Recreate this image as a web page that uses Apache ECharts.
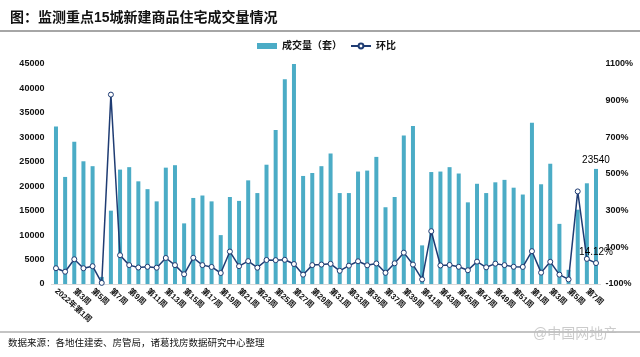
<!DOCTYPE html>
<html>
<head>
<meta charset="utf-8">
<script src="https://cdn.jsdelivr.net/npm/echarts@6/dist/echarts.min.js"></script>
<style>
html,body{margin:0;padding:0;background:#fff;}
#c{width:640px;height:357px;}
</style>
</head>
<body>
<div id="c"></div>
<script>
// Categories: 2022 weeks 1-52, 2023 weeks 1-8
const categories = ["2022年第1周"];
for (let w = 2; w <= 52; w++) categories.push("第" + w + "周");
for (let w = 1; w <= 8; w++) categories.push("第" + w + "周");

// 成交量（套）
const volume = [
  32200, 21900, 29100, 25100, 24100, 1450, 15000, 23400, 23900, 21000,
  19400, 16900, 23800, 24300, 12400, 17600, 18100, 16900, 10000, 17800,
  17000, 21200, 18600, 24400, 31500, 41900, 45000, 22100, 22700, 24100,
  26700, 18600, 18600, 23000, 23200, 26000, 15700, 17800, 30400, 32300,
  7900, 22900, 23000, 23900, 22600, 16700, 20500, 18600, 20800, 21300,
  19700, 18300, 33000, 20400, 24600, 12300, 2900, 15200, 20600, 23540
];

// 环比 (%)
const ratio = [
  -14, -33, 35, -14, -3, -94, 933, 57, 3, -10,
  -6, -11, 42, 3, -47, 43, 3, -7, -40, 77,
  -3, 25, -11, 31, 30, 32, 9, -49, 3, 6,
  10, -28, 0, 24, 2, 12, -39, 13, 71, 6,
  -75, 188, 1, 4, -6, -25, 22, -9, 11, 3,
  -6, -7, 79, -38, 21, -49, -75, 405, 37, 14.12
];

const leftTicks = { min: 0, max: 45000, interval: 5000 };
const rightTicks = { min: -100, max: 1100, interval: 100 };

const FONT = '"Liberation Sans", Arial, "Noto Sans CJK SC", sans-serif';
const BAR_COLOR = '#4bacc6';
const LINE_COLOR = '#1f3c73';

const last = volume.length - 1;
const barData = volume.map((v, i) => i === last
  ? { value: v, label: { show: true, position: 'top', distance: 4, color: '#000', fontSize: 10, fontFamily: FONT } }
  : v);
const lineData = ratio.map((v, i) => i === last
  ? { value: v, label: { show: true, position: 'top', distance: 3, formatter: '{c}%', color: '#000', fontSize: 10, fontFamily: FONT } }
  : v);

const chart = echarts.init(document.getElementById('c'), null, { renderer: 'canvas' });
chart.setOption({
  animation: false,
  backgroundColor: '#fff',
  textStyle: { fontFamily: FONT },
  title: {
    text: '图：监测重点15城新建商品住宅成交量情况',
    left: 5, top: 6,
    textStyle: { fontSize: 14, fontWeight: 'bold', color: '#111', fontFamily: FONT }
  },
  legend: {
    top: 36, left: 252,
    itemGap: 8,
    itemWidth: 20, itemHeight: 6,
    textStyle: { fontSize: 10, fontWeight: 'bold', color: '#111', fontFamily: FONT },
    data: [
      { name: '成交量（套）', icon: 'rect' },
      { name: '环比' }
    ]
  },
  grid: { left: 51.4, right: 39.4, top: 64, bottom: 73, containLabel: false },
  xAxis: {
    type: 'category',
    data: categories,
    axisLine: { show: true, lineStyle: { color: '#d9d9d9', width: 1 } },
    axisTick: { show: false },
    axisLabel: {
      interval: 1, rotate: -42, margin: 6,
      fontSize: 8, fontWeight: 'bold', color: '#111', fontFamily: FONT
    }
  },
  yAxis: [
    {
      type: 'value', min: leftTicks.min, max: leftTicks.max, interval: leftTicks.interval,
      splitLine: { show: false }, axisLine: { show: false }, axisTick: { show: false },
      axisLabel: {
        fontSize: 9, fontWeight: 'bold', color: '#111', margin: 7, fontFamily: FONT,
        formatter: v => String(v)
      }
    },
    {
      type: 'value', min: rightTicks.min, max: rightTicks.max, interval: rightTicks.interval,
      splitLine: { show: false }, axisLine: { show: false }, axisTick: { show: false },
      axisLabel: {
        fontSize: 9, fontWeight: 'bold', color: '#111', margin: 5, fontFamily: FONT,
        formatter: v => (((v + 100) % 200) === 0 ? v + '%' : '')
      }
    }
  ],
  series: [
    {
      name: '成交量（套）', type: 'bar', yAxisIndex: 0,
      data: barData, barWidth: 4,
      itemStyle: { color: BAR_COLOR }
    },
    {
      name: '环比', type: 'line', yAxisIndex: 1,
      data: lineData,
      symbol: 'circle', symbolSize: 5, showAllSymbol: true,
      lineStyle: { color: LINE_COLOR, width: 1.5 },
      itemStyle: { color: '#fff', borderColor: LINE_COLOR, borderWidth: 1 },
      z: 3
    }
  ],
  graphic: [
    { type: 'line', shape: { x1: 0, y1: 31, x2: 640, y2: 31 }, style: { stroke: '#a6a6a6', lineWidth: 2 } },
    { type: 'line', shape: { x1: 0, y1: 332, x2: 640, y2: 332 }, style: { stroke: '#b0b0b0', lineWidth: 1.5 } },
    { type: 'text', left: 8, top: 339, style: { text: '数据来源：各地住建委、房管局，诸葛找房数据研究中心整理', fontSize: 9.5, fill: '#111', fontFamily: FONT } },
    { type: 'text', left: 533, top: 327, style: { text: '@中国网地产', fontSize: 14, fill: 'rgba(190,190,190,0.8)', fontFamily: FONT } }
  ]
});
</script>
</body>
</html>
